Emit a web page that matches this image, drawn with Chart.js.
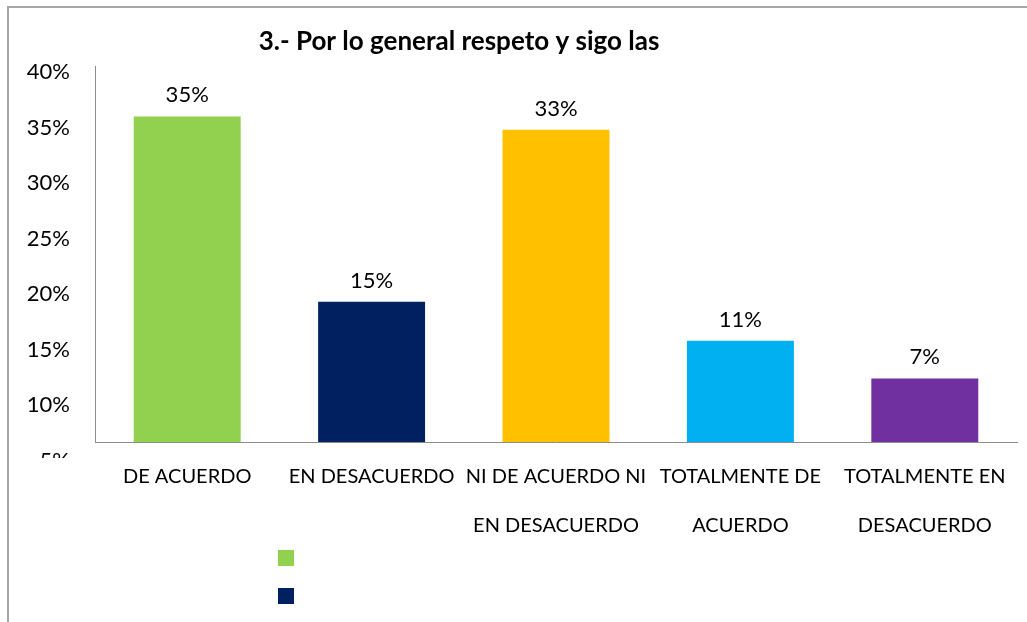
<!DOCTYPE html>
<html>
<head>
<meta charset="utf-8">
<script src="https://cdn.jsdelivr.net/npm/chart.js"></script>
<style>
html, body { margin: 0; padding: 0; background: #fff; overflow: hidden; }
#wrap { position: relative; width: 1027px; height: 622px; overflow: hidden; }
#frame { position: absolute; left: 7px; top: 6px; width: 1100px; height: 700px; border: 2px solid #a6a6a6; box-sizing: border-box; }
#chart { position: absolute; left: 0; top: 0; }
</style>
</head>
<body>
<div id="wrap">
  <div id="frame"></div>
  <canvas id="chart" width="1027" height="622"></canvas>
</div>
<script>
// chart data
const chartTitle = '3.- Por lo general respeto y sigo las';
const categories = ['DE ACUERDO', 'EN DESACUERDO', ['NI DE ACUERDO NI', 'EN DESACUERDO'], ['TOTALMENTE DE', 'ACUERDO'], ['TOTALMENTE EN', 'DESACUERDO']];
const barValues = [36.0, 19.3, 34.8, 15.8, 12.4];
const valueLabels = ['35%', '15%', '33%', '11%', '7%'];
const barColors = ['#92D050', '#002060', '#FFC000', '#00B0F0', '#7030A0'];
const yTicks = [5, 10, 15, 20, 25, 30, 35, 40];
const legendColors = ['#92D050', '#002060'];

Chart.defaults.font.family = 'Lato';
Chart.defaults.color = '#000';

// value labels, title, the cut 5% tick and the legend boxes
const extras = {
    id: 'extras',
    afterDraw(chart) {
        const ctx = chart.ctx;
        const y = chart.scales.y;
        const meta = chart.getDatasetMeta(0);
        ctx.save();
        ctx.fillStyle = '#000';
        ctx.font = '22px Lato';
        ctx.textAlign = 'center';
        ctx.textBaseline = 'alphabetic';
        meta.data.forEach(function(bar, i){
            ctx.fillText(valueLabels[i], bar.x, bar.y - 14);
        });

        ctx.font = 'bold 26px Lato';
        ctx.fillText(chartTitle, 459, 50);

        // 5% label sits below the axis and is cut off
        ctx.save();
        ctx.beginPath();
        ctx.rect(0, y.bottom, y.right, 16);
        ctx.clip();
        ctx.font = '22px Lato';
        ctx.textAlign = 'right';
        ctx.textBaseline = 'middle';
        ctx.fillText(yTicks[0] + '%', y.right - 25, y.getPixelForValue(yTicks[0]));
        ctx.restore();

        legendColors.forEach(function(c, i){
            ctx.fillStyle = c;
            ctx.fillRect(278, 550 + i * 38, 16, 16);
        });
        ctx.restore();
    }
};

const ctx = document.getElementById('chart');
const chart = new Chart(ctx, {
    type: 'bar',
    data: {
        labels: categories,
        datasets: [{
            data: barValues,
            backgroundColor: barColors,
            borderWidth: 0,
            categoryPercentage: 1,
            barPercentage: 0.58
        }]
    },
    options: {
        responsive: false,
        animation: false,
        layout: { padding: { left: 20, right: 10, top: 66, bottom: 0 } },
        plugins: {
            legend: { display: false },
            tooltip: { enabled: false }
        },
        scales: {
            x: {
                grid: { display: false, drawTicks: false },
                border: { color: '#8c8c8c', width: 1 },
                ticks: {
                    font: { size: 20, lineHeight: 2.45 },
                    padding: 10,
                    maxRotation: 0,
                    autoSkip: false
                },
                afterFit: function(scale){ scale.height = 180; }
            },
            y: {
                min: 6.67,
                max: 40.54,
                grid: { display: false, drawTicks: false },
                border: { color: '#8c8c8c', width: 1 },
                ticks: {
                    font: { size: 22 },
                    padding: 25,
                    callback: function(v){ return v + '%'; }
                },
                afterBuildTicks: function(scale){
                    scale.ticks = yTicks.filter(function(v){ return v >= scale.min; }).map(function(v){ return { value: v }; });
                },
                afterFit: function(scale){ scale.width = 75; }
            }
        }
    },
    plugins: [extras]
});
</script>
</body>
</html>
